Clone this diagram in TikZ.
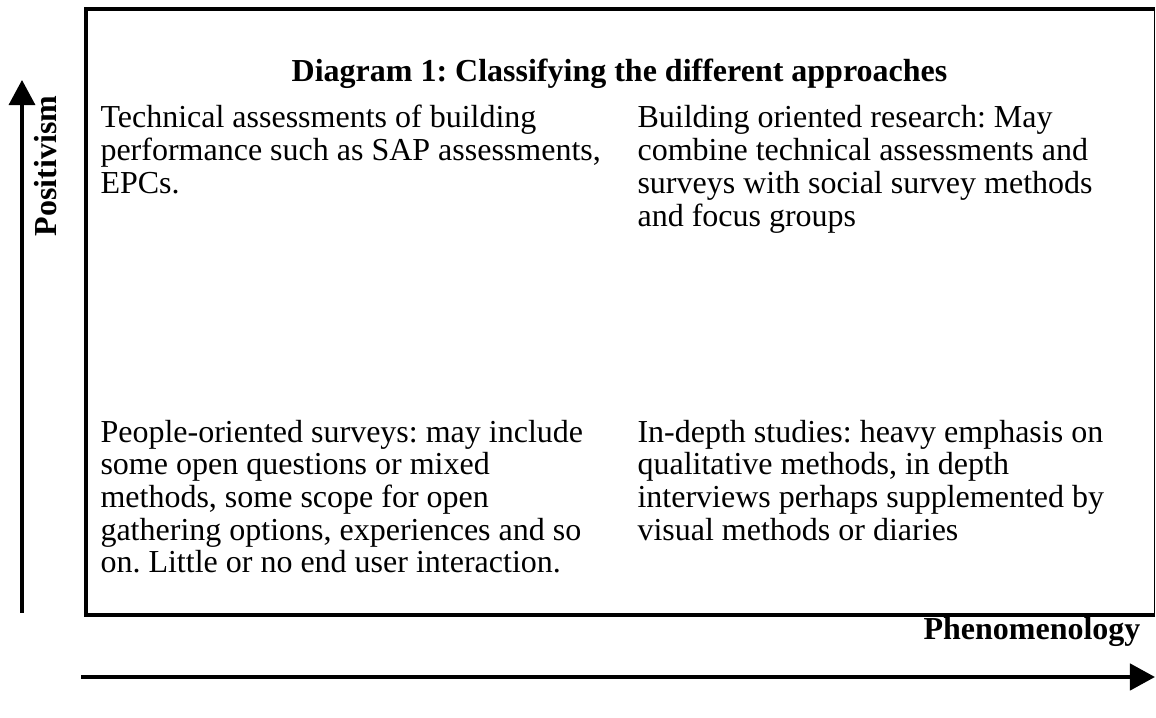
\documentclass[tikz,border=0pt]{standalone}
\usepackage{fontspec}
\setmainfont{Liberation Serif}
\usetikzlibrary{arrows.meta}
\frenchspacing
\begin{document}
\frenchspacing
\begin{tikzpicture}[x=0.375pt,y=-0.375pt,
  body/.style={font=\fontsize{12pt}{12.28pt}\selectfont\frenchspacing, align=left, inner sep=0pt, anchor=base west},
  hdr/.style={font=\fontsize{12pt}{12.3pt}\selectfont\bfseries\frenchspacing, inner sep=0pt},
  axisarrow/.style={-{Triangle[length=9.4pt,width=9.8pt]}}]
\useasboundingbox (0,0) rectangle (1156,718);
% frame
\coordinate (ftr) at (1155,9);
\coordinate (ftl) at (86,9);
\coordinate (fbl) at (86,615);
\coordinate (fbr) at (1155,615);
\draw[line width=1.5pt, line join=miter] (ftr) -- (ftl) -- (fbl) -- (fbr);
\draw[line width=0.45pt] (1154.6,9) -- (1154.6,615);
% title
\node[hdr, anchor=base] (title) at (619.5,82) {Diagram 1: Classifying the different approaches};
% quadrants (anchor = baseline of last line)
\node[body] (tl) at (100,193.5) {Technical assessments of building\\performance such as SAP assessments,\\EPCs.};
\node[body] (tr) at (637,226.2) {Building oriented research: May\\combine technical assessments and\\surveys with social survey methods\\and focus groups};
\node[body] (bl) at (100,573) {People-oriented surveys: may include\\some open questions or mixed\\methods, some scope for open\\gathering options, experiences and so\\on. Little or no end user interaction.};
\node[body] (br) at (637,540.3) {In-depth studies: heavy emphasis on\\qualitative methods, in depth\\interviews perhaps supplemented by\\visual methods or diaries};
% axes
\coordinate (vs) at (22,613);
\coordinate (ve) at (22,80);
\draw[axisarrow, line width=1.2pt] (vs) -- (ve);
\node[hdr, rotate=90, anchor=base] (pos) at (57,166) {Positivism};
\coordinate (hs) at (81,677);
\coordinate (he) at (1155,677);
\draw[axisarrow, line width=1.6pt] (hs) -- (he);
\node[hdr, anchor=base east] (phen) at (1141,640) {Phenomenology};
\end{tikzpicture}
\end{document}
